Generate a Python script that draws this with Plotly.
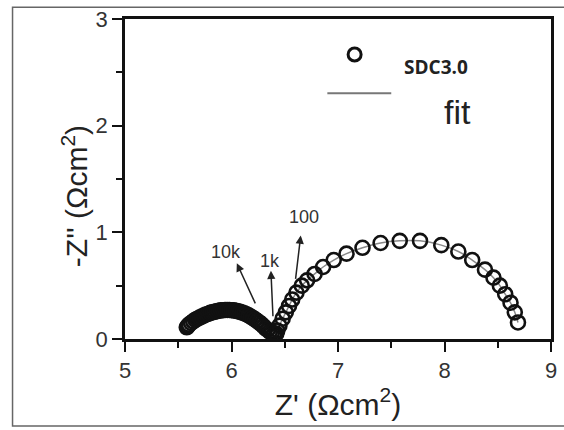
import plotly.graph_objects as go

# Nyquist data (Z' , -Z'')
arc1_x = [5.58, 5.59, 5.60, 5.62, 5.64, 5.66, 5.68, 5.70, 5.72, 5.74, 5.76, 5.78,
          5.80, 5.82, 5.84, 5.86, 5.88, 5.90, 5.92, 5.94, 5.96, 5.98, 6.00, 6.02,
          6.04, 6.06, 6.08, 6.10, 6.12, 6.14, 6.16, 6.18, 6.20, 6.22, 6.24, 6.26,
          6.28, 6.30, 6.32, 6.34, 6.36, 6.38, 6.40]
arc1_y = [0.11, 0.12, 0.135, 0.15, 0.165, 0.18, 0.19, 0.20, 0.21, 0.22, 0.23, 0.235,
          0.245, 0.25, 0.255, 0.26, 0.265, 0.268, 0.27, 0.272, 0.272, 0.272, 0.27, 0.268,
          0.265, 0.26, 0.255, 0.248, 0.24, 0.232, 0.222, 0.21, 0.198, 0.185, 0.17, 0.155,
          0.14, 0.12, 0.10, 0.085, 0.07, 0.06, 0.05]
arc2_x = [6.42, 6.43, 6.45, 6.48, 6.51, 6.54, 6.57, 6.61, 6.66, 6.71, 6.78, 6.86,
          6.96, 7.08, 7.23, 7.40, 7.58, 7.77, 7.97, 8.13, 8.26, 8.38, 8.46, 8.52,
          8.57, 8.62, 8.66, 8.69]
arc2_y = [0.05, 0.08, 0.125, 0.19, 0.25, 0.31, 0.37, 0.435, 0.50, 0.55, 0.61, 0.675,
          0.74, 0.80, 0.855, 0.90, 0.92, 0.92, 0.88, 0.82, 0.74, 0.65, 0.575, 0.50,
          0.42, 0.34, 0.25, 0.155]

zx = arc1_x + arc2_x
zy = arc1_y + arc2_y

x_ticks = [5, 6, 7, 8, 9]
y_ticks = [0, 1, 2, 3]

# frequency labels: (text, text_x, text_y, arrow_tail_x, arrow_tail_y, head_x, head_y)
freq_labels = [
    ("10k", 5.95, 0.82, 6.23, 0.32, 6.05, 0.71),
    ("1k", 6.36, 0.73, 6.39, 0.20, 6.37, 0.64),
    ("100", 6.68, 1.14, 6.60, 0.55, 6.65, 0.97),
]

fig = go.Figure()

fig.add_trace(go.Scatter(
    x=zx, y=zy, mode="lines", line=dict(color="#888888", width=1.5, shape="spline"),
    showlegend=False, hoverinfo="skip"))
fig.add_trace(go.Scatter(
    x=zx, y=zy, mode="markers",
    marker=dict(symbol="circle-open", size=14, color="#111111", line=dict(width=2.6)),
    showlegend=False))

font_main = "Arial"

for txt, tx, ty, ax_, ay_, hx, hy in freq_labels:
    fig.add_annotation(x=hx, y=hy, ax=ax_, ay=ay_, xref="x", yref="y", axref="x", ayref="y",
                       text="", showarrow=True, arrowhead=2, arrowsize=1.1, arrowwidth=1.5,
                       arrowcolor="#222222")
    fig.add_annotation(x=tx, y=ty, xref="x", yref="y", text=txt, showarrow=False,
                       font=dict(family=font_main, size=18, color="#333333"))

# legend drawn manually
fig.add_shape(type="circle", xref="paper", yref="paper", xsizemode="pixel", ysizemode="pixel",
              xanchor=0.539, yanchor=0.889, x0=-6.5, x1=6.5, y0=-6.5, y1=6.5,
              line=dict(color="#111111", width=3), fillcolor="white")
fig.add_annotation(x=0.651, y=0.897, xref="paper", yref="paper", text="<b>SDC3.0</b>",
                   showarrow=False, xanchor="left",
                   font=dict(family="Open Sans", size=19, color="#222222"))
fig.add_shape(type="line", xref="paper", yref="paper", x0=0.475, x1=0.625, y0=0.768, y1=0.768,
              line=dict(color="#777777", width=2))
fig.add_annotation(x=0.745, y=0.775, xref="paper", yref="paper", text="fit",
                   showarrow=False, xanchor="left",
                   font=dict(family=font_main, size=34, color="#222222"))

# y-axis title (placed as annotation to match the reference position)
fig.add_annotation(x=-0.167, y=0.446, xref="paper", yref="paper",
                   text="-Z'' (\u03a9cm<sup>2</sup>)", textangle=-90, showarrow=False,
                   font=dict(family=font_main, size=30, color="#222222"))

# outer gray frame (right edge falls just outside the picture, as in the reference)
fig.add_shape(type="rect", xref="paper", yref="paper", x0=-0.264, x1=1.04, y0=-0.272, y1=1.037,
              line=dict(color="#666666", width=1.5), layer="below")

fig.update_layout(
    width=564, height=430,
    margin=dict(l=125, r=7, t=16, b=91),
    paper_bgcolor="white", plot_bgcolor="white",
    font=dict(family=font_main, color="#333333"),
    xaxis=dict(range=[5, 9], tickvals=x_ticks, ticks="outside", ticklen=10, tickwidth=2,
               tickcolor="#111111", showline=True, linecolor="#111111", linewidth=2.5,
               mirror=True, showgrid=False, zeroline=False,
               tickfont=dict(family=font_main, size=22, color="#333333"),
               minor=dict(dtick=0.5, ticks="outside", ticklen=6, tickwidth=2, tickcolor="#111111"),
               title=dict(text="Z' (\u03a9cm<sup>2</sup>)",
                          font=dict(family=font_main, size=30, color="#222222"),
                          standoff=2)),
    yaxis=dict(range=[0, 3], tickvals=y_ticks, ticks="outside", ticklen=10, tickwidth=2,
               tickcolor="#111111", showline=True, linecolor="#111111", linewidth=2.5,
               mirror=True, showgrid=False, zeroline=False,
               tickfont=dict(family=font_main, size=22, color="#333333"),
               minor=dict(dtick=0.5, ticks="outside", ticklen=6, tickwidth=2, tickcolor="#111111")),
)

fig.write_html("out.html")
